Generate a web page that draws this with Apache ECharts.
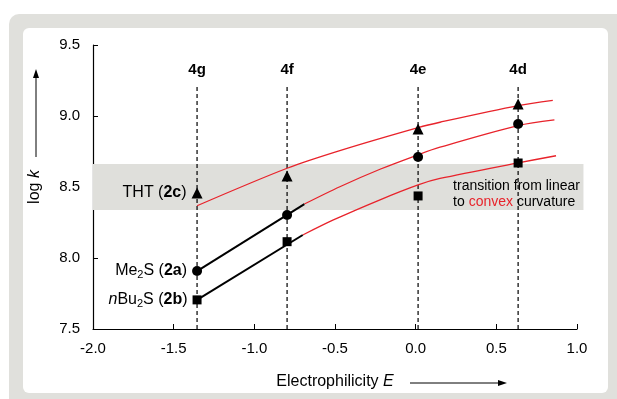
<!DOCTYPE html>
<html><head><meta charset="utf-8">
<script src="https://cdn.jsdelivr.net/npm/echarts@6/dist/echarts.min.js"></script>
<style>
html,body{margin:0;padding:0;background:#fff;}
#wrap{position:relative;width:617px;height:399px;overflow:hidden;}
#outer{position:absolute;left:9px;top:14px;width:640px;height:420px;background:#e0e0dc;border-radius:10px;}
#inner{position:absolute;left:23px;top:28px;width:585px;height:365px;background:#fff;border-radius:6px;}
#c{position:absolute;left:0;top:0;width:617px;height:399px;}
</style></head>
<body><div id="wrap"><div id="outer"></div><div id="inner"></div><div id="c"></div></div>
<script>
// ---- data ----
const electrophileNames = ['4g', '4f', '4e', '4d'];
const electrophileE = [-1.355, -0.797, 0.015, 0.635];
const thtLogK = [8.458, 8.577, 8.908, 9.085];
const me2sLogK = [7.908, 8.303, 8.711, 8.944];
const nbu2sLogK = [7.705, 8.115, 8.437, 8.669];

const thtFitE = [-1.355, -0.797, -0.45, 0.015, 0.151, 0.635, 0.85];
const thtFitLogK = [8.368, 8.632, 8.763, 8.918, 8.956, 9.073, 9.11];
const me2sLinE = [-1.355, -0.69];
const me2sLinLogK = [7.908, 8.38];
const me2sFitE = [-0.69, -0.47, -0.221, 0.015, 0.151, 0.635, 0.86];
const me2sFitLogK = [8.38, 8.502, 8.625, 8.727, 8.78, 8.932, 8.972];
const nbu2sLinE = [-1.355, -0.70];
const nbu2sLinLogK = [7.705, 8.162];
const nbu2sFitE = [-0.70, -0.51, -0.221, 0.015, 0.151, 0.635, 0.87];
const nbu2sFitLogK = [8.162, 8.268, 8.41, 8.515, 8.56, 8.670, 8.72];

const bandE = [-2.0, 1.04];
const bandLogK = [8.338, 8.662];
const guideTopLogK = 9.204;
const guideLabelLogK = 9.324;
const transitionTextE = 0.232;

const xAxisRange = [-2.0, 1.0];
const yAxisRange = [7.5, 9.5];
const tickStep = 0.5;

// ---- chart ----
const zip = (a, b) => a.map((v, i) => [v, b[i]]);
const FONT = 'Arial, "Liberation Sans", Helvetica, sans-serif';
const RED = '#e8232b';

const labelRich = {
  n: { fontSize: 16, fontFamily: FONT, color: '#000' },
  i: { fontSize: 16, fontFamily: FONT, color: '#000', fontStyle: 'italic' },
  b: { fontSize: 16, fontFamily: FONT, color: '#000', fontWeight: 'bold' },
  s: { fontSize: 11, fontFamily: FONT, color: '#000', verticalAlign: 'bottom', padding: [8, 0, 0, 0] }
};

function scatterData(vals, labelText) {
  return zip(electrophileE, vals).map((p, i) => i === 0 ? {
    value: p,
    label: { show: true, position: 'left', distance: 5, formatter: labelText, rich: labelRich }
  } : { value: p });
}

const fitLine = (e, k) => ({
  type: 'line', z: 3, data: zip(e, k), smooth: 0.3, symbol: 'none',
  lineStyle: { color: RED, width: 1.3 }, emphasis: { disabled: true }
});
const linLine = (e, k) => ({
  type: 'line', z: 3, data: zip(e, k), symbol: 'none',
  lineStyle: { color: '#000', width: 2 }, emphasis: { disabled: true }
});

const chart = echarts.init(document.getElementById('c'), null, { renderer: 'canvas' });
chart.setOption({
  animation: false,
  backgroundColor: 'transparent',
  textStyle: { fontFamily: FONT },
  grid: { left: 93, right: 40, top: 45, bottom: 70 },
  xAxis: {
    type: 'value', min: xAxisRange[0], max: xAxisRange[1], interval: tickStep,
    name: '{n|Electrophilicity }{i|E}', nameLocation: 'middle', nameGap: 45,
    nameTextStyle: { rich: labelRich },
    axisLine: { onZero: false, lineStyle: { color: '#000', width: 1.2 } },
    axisTick: { inside: true, length: 5, lineStyle: { color: '#000' } },
    axisLabel: { color: '#000', fontSize: 15, fontFamily: FONT, margin: 12, formatter: v => v.toFixed(1) },
    splitLine: { show: false }
  },
  yAxis: {
    type: 'value', min: yAxisRange[0], max: yAxisRange[1], interval: tickStep,
    name: '{n|log }{i|k}', nameLocation: 'middle', nameGap: 50, nameRotate: 90,
    nameTextStyle: { rich: labelRich },
    axisLine: { show: true, onZero: false, lineStyle: { color: '#000', width: 1.2 } },
    axisTick: { show: true, inside: true, length: 5, lineStyle: { color: '#000' } },
    axisLabel: { color: '#000', fontSize: 15, fontFamily: FONT, margin: 13, formatter: v => v.toFixed(1) },
    splitLine: { show: false }
  },
  graphic: [
    { type: 'line', shape: { x1: 36, y1: 157, x2: 36, y2: 76 }, style: { stroke: '#000', lineWidth: 1 } },
    { type: 'polygon', shape: { points: [[36, 69], [33, 78], [39, 78]] }, style: { fill: '#000' } },
    { type: 'line', shape: { x1: 410, y1: 383, x2: 500, y2: 383 }, style: { stroke: '#000', lineWidth: 1 } },
    { type: 'polygon', shape: { points: [[507, 383], [498, 380], [498, 386]] }, style: { fill: '#000' } }
  ],
  series: [
    {
      type: 'custom', z: 1, clip: false, silent: true,
      data: [[bandE[0], bandE[1], bandLogK[0], bandLogK[1]]],
      renderItem: (params, api) => {
        const p0 = api.coord([api.value(0), api.value(3)]);
        const p1 = api.coord([api.value(1), api.value(2)]);
        const t = api.coord([transitionTextE, api.value(2)]);
        return {
          type: 'group', children: [
            { type: 'rect', shape: { x: p0[0], y: p0[1], width: p1[0] - p0[0], height: p1[1] - p0[1] }, style: { fill: '#dfdfdb' } },
            { type: 'text', x: t[0], y: t[1], style: {
              text: 'transition from linear\nto {r|convex} curvature', align: 'left', verticalAlign: 'bottom',
              fontSize: 14, fontFamily: FONT, fill: '#000', lineHeight: 16,
              rich: { r: { fill: RED, fontSize: 14, fontFamily: FONT } }
            } }
          ]
        };
      }
    },
    {
      type: 'custom', z: 2, clip: false, silent: true,
      data: electrophileE.map(e => [e, guideTopLogK]),
      renderItem: (params, api) => {
        const e = api.value(0);
        const top = api.coord([e, api.value(1)]);
        const bot = api.coord([e, yAxisRange[0]]);
        const lab = api.coord([e, guideLabelLogK]);
        return {
          type: 'group', children: [
            { type: 'line', shape: { x1: top[0], y1: top[1], x2: bot[0], y2: bot[1] }, style: { stroke: '#000', lineWidth: 1.2, lineDash: [4, 3] } },
            { type: 'text', x: lab[0], y: lab[1], style: { text: electrophileNames[params.dataIndex], align: 'center', verticalAlign: 'middle', fontSize: 15, fontWeight: 'bold', fontFamily: FONT, fill: '#000' } }
          ]
        };
      }
    },
    fitLine(thtFitE, thtFitLogK),
    fitLine(me2sFitE, me2sFitLogK),
    fitLine(nbu2sFitE, nbu2sFitLogK),
    linLine(me2sLinE, me2sLinLogK),
    linLine(nbu2sLinE, nbu2sLinLogK),
    { type: 'scatter', z: 5, symbol: 'triangle', symbolSize: 11, itemStyle: { color: '#000', opacity: 1 },
      emphasis: { disabled: true }, data: scatterData(thtLogK, '{n|THT (}{b|2c}{n|)}') },
    { type: 'scatter', z: 5, symbol: 'circle', symbolSize: 10, itemStyle: { color: '#000', opacity: 1 },
      emphasis: { disabled: true }, data: scatterData(me2sLogK, '{n|Me}{s|2}{n|S (}{b|2a}{n|)}') },
    { type: 'scatter', z: 5, symbol: 'rect', symbolSize: 9, itemStyle: { color: '#000', opacity: 1 },
      emphasis: { disabled: true }, data: scatterData(nbu2sLogK, '{i|n}{n|Bu}{s|2}{n|S (}{b|2b}{n|)}') }
  ]
});
</script></body></html>
